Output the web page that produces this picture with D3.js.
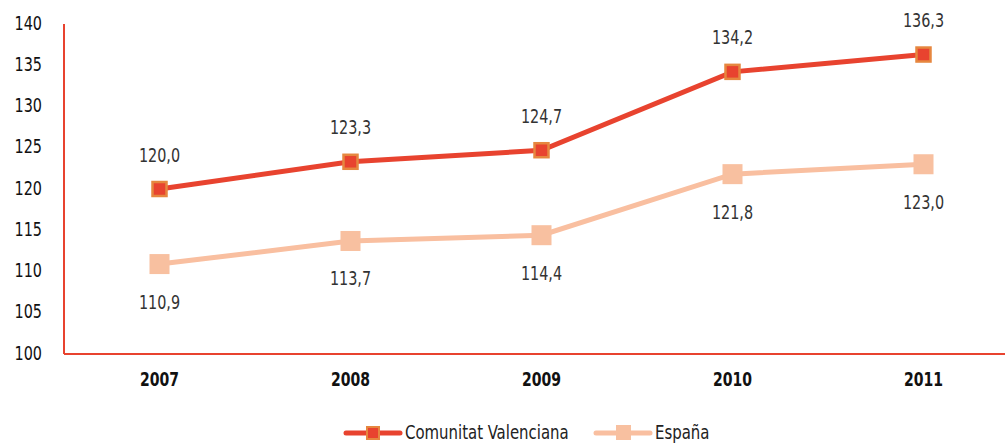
<!DOCTYPE html>
<html>
<head>
<meta charset="utf-8">
<script src="https://cdn.jsdelivr.net/npm/d3@7"></script>
<style>
  body { margin: 0; background: #fff; }
  text { font-family: "DejaVu Sans Condensed", "Liberation Sans Narrow", "Roboto", sans-serif; font-stretch: condensed; }
</style>
</head>
<body>
<div id="chart"></div>
<script>
// datos
var years = ["2007", "2008", "2009", "2010", "2011"];
var cvValues = [120.0, 123.3, 124.7, 134.2, 136.3];
var espValues = [110.9, 113.7, 114.4, 121.8, 123.0];
var yTicks = [100, 105, 110, 115, 120, 125, 130, 135, 140];
var seriesNames = ["Comunitat Valenciana", "España"];

var width = 1007, height = 444;
var mLeft = 64, mTop = 24, mBottom = 354;

var svg = d3.select("#chart").append("svg")
  .attr("width", width)
  .attr("height", height);

var x = d3.scaleBand().domain(years).range([mLeft, mLeft + 5 * 191]);
var y = d3.scaleLinear().domain([100, 140]).range([mBottom, mTop]);

function fmt(v) { return v.toFixed(1).replace(".", ","); }

// texto estrecho: se coloca con transform y se comprime en x
function narrow(sx, fx, fy) {
  return function(d, i) {
    return "translate(" + fx(d, i) + "," + fy(d, i) + ") scale(" + sx + ",1)";
  };
}

// ejes
svg.append("line")
  .attr("x1", mLeft).attr("y1", mTop)
  .attr("x2", mLeft).attr("y2", mBottom)
  .attr("stroke", "#e8432f").attr("stroke-width", 2);
svg.append("line")
  .attr("x1", mLeft).attr("y1", mBottom)
  .attr("x2", 1005).attr("y2", mBottom)
  .attr("stroke", "#e8432f").attr("stroke-width", 2);

svg.append("g").selectAll("text").data(yTicks).enter().append("text")
  .attr("transform", narrow(0.8, function() { return 42; }, function(d) { return y(d); }))
  .attr("text-anchor", "end")
  .attr("dominant-baseline", "middle")
  .attr("font-size", 20)
  .attr("fill", "#111")
  .text(function(d) { return d; });

svg.append("g").selectAll("text").data(years).enter().append("text")
  .attr("transform", narrow(0.78, function(d) { return x(d) + x.bandwidth() / 2; }, function() { return 380; }))
  .attr("text-anchor", "middle")
  .attr("dominant-baseline", "middle")
  .attr("font-size", 20)
  .attr("font-weight", "bold")
  .attr("fill", "#111")
  .text(function(d) { return d; });

var cx = function(d, i) { return x(years[i]) + x.bandwidth() / 2; };
var line = d3.line().x(cx).y(function(d) { return y(d); });

// España
svg.append("path").datum(espValues)
  .attr("d", line).attr("fill", "none")
  .attr("stroke", "#f9bfa0").attr("stroke-width", 5);
svg.append("g").selectAll("rect").data(espValues).enter().append("rect")
  .attr("x", function(d, i) { return cx(d, i) - 10; })
  .attr("y", function(d) { return y(d) - 10; })
  .attr("width", 20).attr("height", 20)
  .attr("fill", "#f8c0a0");
svg.append("g").selectAll("text").data(espValues).enter().append("text")
  .attr("transform", narrow(0.8, cx, function(d) { return y(d) + 39; }))
  .attr("text-anchor", "middle")
  .attr("dominant-baseline", "middle")
  .attr("font-size", 20)
  .attr("fill", "#333")
  .text(fmt);

// Comunitat Valenciana
svg.append("path").datum(cvValues)
  .attr("d", line).attr("fill", "none")
  .attr("stroke", "#e8432f").attr("stroke-width", 5);
svg.append("g").selectAll("rect").data(cvValues).enter().append("rect")
  .attr("x", function(d, i) { return cx(d, i) - 7; })
  .attr("y", function(d) { return y(d) - 7; })
  .attr("width", 14).attr("height", 14)
  .attr("fill", "#e8432f")
  .attr("stroke", "#e6873f").attr("stroke-width", 2.5);
svg.append("g").selectAll("text").data(cvValues).enter().append("text")
  .attr("transform", narrow(0.8, cx, function(d) { return y(d) - 33; }))
  .attr("text-anchor", "middle")
  .attr("dominant-baseline", "middle")
  .attr("font-size", 20)
  .attr("fill", "#333")
  .text(fmt);

// leyenda
var legend = svg.append("g");
var lx = [346, 596];
var colors = ["#e8432f", "#f9bfa0"];
seriesNames.forEach(function(name, i) {
  legend.append("line")
    .attr("x1", lx[i]).attr("y1", 433)
    .attr("x2", lx[i] + 54).attr("y2", 433)
    .attr("stroke", colors[i]).attr("stroke-width", 5)
    .attr("stroke-linecap", "round");
  if (i == 0) {
    legend.append("rect")
      .attr("x", lx[i] + 21).attr("y", 427)
      .attr("width", 12).attr("height", 12)
      .attr("fill", "#e8432f").attr("stroke", "#e6873f").attr("stroke-width", 2);
  } else {
    legend.append("rect")
      .attr("x", lx[i] + 20).attr("y", 425)
      .attr("width", 15).attr("height", 15)
      .attr("fill", "#f8c0a0");
  }
  legend.append("text")
    .attr("transform", "translate(" + (lx[i] + 59) + ",434) scale(0.83,1)")
    .attr("dominant-baseline", "middle")
    .attr("font-size", 20)
    .attr("fill", "#222")
    .text(name);
});
</script>
</body>
</html>
